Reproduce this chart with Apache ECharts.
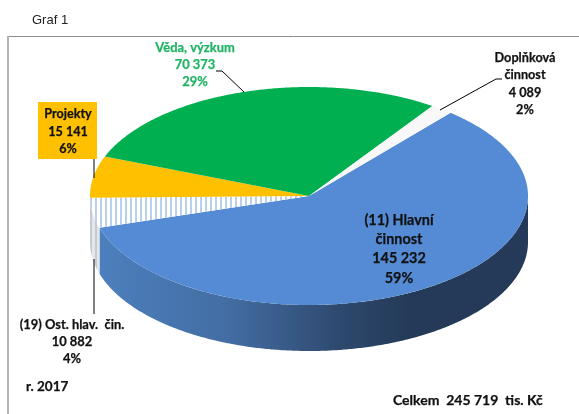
<!DOCTYPE html>
<html><head><meta charset="utf-8">
<style>html,body{margin:0;padding:0;background:#fff}#c{width:579px;height:414px}</style>
<script src="https://cdn.jsdelivr.net/npm/echarts@6/dist/echarts.min.js"></script>
</head><body><div id="c"></div>
<script>
const categories = ['(11) Hlavní\nčinnost', '(19) Ost. hlav.  čin.', 'Projekty', 'Věda, výzkum', 'Doplňková\nčinnost'];
const values = [145232, 10882, 15141, 70373, 4089];
const captionTitle = 'Graf 1';
const captionYear = 'r. 2017';
const captionTotal = 'Celkem  245 719  tis. Kč';

const total = values.reduce((a, b) => a + b, 0);
const geo = { cx: 309, cy: 196, rx: 219, ry: 109, depth: 46, start: -49.7 };
const FONT = 'Lato, Carlito, sans-serif';

function stripes(bg, fg) {
  const c = document.createElement('canvas');
  c.width = 5; c.height = 4;
  const g = c.getContext('2d');
  g.fillStyle = bg; g.fillRect(0, 0, 5, 4);
  g.fillStyle = fg; g.fillRect(0, 0, 2, 4);
  return c;
}
const fills = [
  '#548bd4',
  { image: stripes('#ffffff', '#b8cfee'), repeat: 'repeat' },
  '#ffc000',
  '#00b050',
  '#f8f8f8'
];
const wallFill = [
  { type: 'linear', global: true, x: 100, y: 0, x2: 528, y2: 0, colorStops: [
    { offset: 0, color: '#4c7fbd' }, { offset: 0.3, color: '#436da3' },
    { offset: 0.55, color: '#2f4a70' }, { offset: 0.72, color: '#243a58' }, { offset: 1, color: '#243a58' }] },
  { image: stripes('#e4e6ea', '#c4c9d2'), repeat: 'repeat' }
];
const labelLayout = [
  { x: 399, y: 249, size: 14.4, lh: 19.3, color: '#111111' },
  { x: 72, y: 342, size: 12.9, lh: 17, color: '#111111' },
  { x: 68, y: 131.5, size: 12.6, lh: 17.2, color: '#111111', box: [38, 102, 59, 57] },
  { x: 195, y: 65, size: 12.9, lh: 17, color: '#1fb464' },
  { x: 525, y: 84, size: 12.7, lh: 17.3, color: '#111111' }
];
const leaders = [
  null,
  [[94, 259], [94, 314]],
  [[94, 159], [94, 178]],
  [[216, 71], [222, 71], [244, 92]],
  [[502, 79], [496, 79], [440, 110]]
];

function pt(deg, dy) {
  const t = deg * Math.PI / 180;
  return [geo.cx + geo.rx * Math.cos(t), geo.cy + geo.ry * Math.sin(t) + (dy || 0)];
}
function arc(a, b, dy) {
  const pts = [], n = Math.max(2, Math.ceil((b - a) * 2));
  for (let i = 0; i <= n; i++) pts.push(pt(a + (b - a) * i / n, dy));
  return pts;
}
function fmt(v) { return String(v).replace(/\B(?=(\d{3})+$)/g, ' '); }

function renderItem(params, api) {
  const i = params.dataIndex;
  const before = values.slice(0, i).reduce((a, b) => a + b, 0);
  const a = geo.start + before / total * 360;
  const b = a + api.value(0) / total * 360;
  const kids = [];
  const wa = Math.max(a, 0), wb = Math.min(b, 180);
  if (wb > wa && wallFill[i]) {
    const top = arc(wa, wb, 0), bot = arc(wa, wb, geo.depth).reverse();
    kids.push({ type: 'polygon', shape: { points: top.concat(bot) }, style: { fill: wallFill[i] } });
  }
  kids.push({ type: 'polygon', shape: { points: [[geo.cx, geo.cy]].concat(arc(a, b, 0)) }, style: { fill: fills[i] } });
  return { type: 'group', children: kids };
}
function renderLabel(params, api) {
  const i = params.dataIndex, L = labelLayout[i], v = api.value(0), kids = [];
  if (L.box) kids.push({ type: 'rect', shape: { x: L.box[0], y: L.box[1], width: L.box[2], height: L.box[3] }, style: { fill: '#ffc000' } });
  if (leaders[i]) kids.push({ type: 'polyline', shape: { points: leaders[i] }, style: { stroke: '#000', lineWidth: 1, fill: 'none' } });
  kids.push({ type: 'text', style: {
    text: categories[i] + '\n' + fmt(v) + '\n' + Math.round(v / total * 100) + '%',
    x: L.x, y: L.y, align: 'center', verticalAlign: 'middle',
    font: 'bold ' + L.size + 'px ' + FONT, lineHeight: L.lh, fill: L.color,
    stroke: L.color, lineWidth: 0.25 } });
  return { type: 'group', children: kids };
}

const chart = echarts.init(document.getElementById('c'), null, { renderer: 'canvas' });
const seriesData = values.map((v, i) => ({ name: categories[i], value: v }));
chart.setOption({
  animation: false,
  backgroundColor: '#ffffff',
  tooltip: { show: false },
  graphic: [
    { type: 'line', shape: { x1: 8, y1: 36.5, x2: 579, y2: 36.5 }, style: { stroke: '#8c8c8c', lineWidth: 1 } },
    { type: 'line', shape: { x1: 8, y1: 36, x2: 8, y2: 414 }, style: { stroke: '#b4b4b4', lineWidth: 2 } },
    { type: 'text', style: { text: captionTitle, x: 32, y: 20, verticalAlign: 'middle', font: '13px "Liberation Sans", Arial, sans-serif', fill: '#222' } },
    { type: 'text', style: { text: captionYear, x: 26, y: 387, verticalAlign: 'middle', font: 'bold 13.5px ' + FONT, fill: '#111', stroke: '#111', lineWidth: 0.25 } },
    { type: 'text', style: { text: captionTotal, x: 393, y: 400, verticalAlign: 'middle', font: 'bold 14px ' + FONT, fill: '#111', stroke: '#111', lineWidth: 0.25 } }
  ],
  series: [
    { type: 'custom', name: 'slices', coordinateSystem: 'none', silent: true, renderItem, data: seriesData, z: 2 },
    { type: 'custom', name: 'labels', coordinateSystem: 'none', silent: true, renderItem: renderLabel, data: seriesData, z: 3 }
  ]
});
</script></body></html>
